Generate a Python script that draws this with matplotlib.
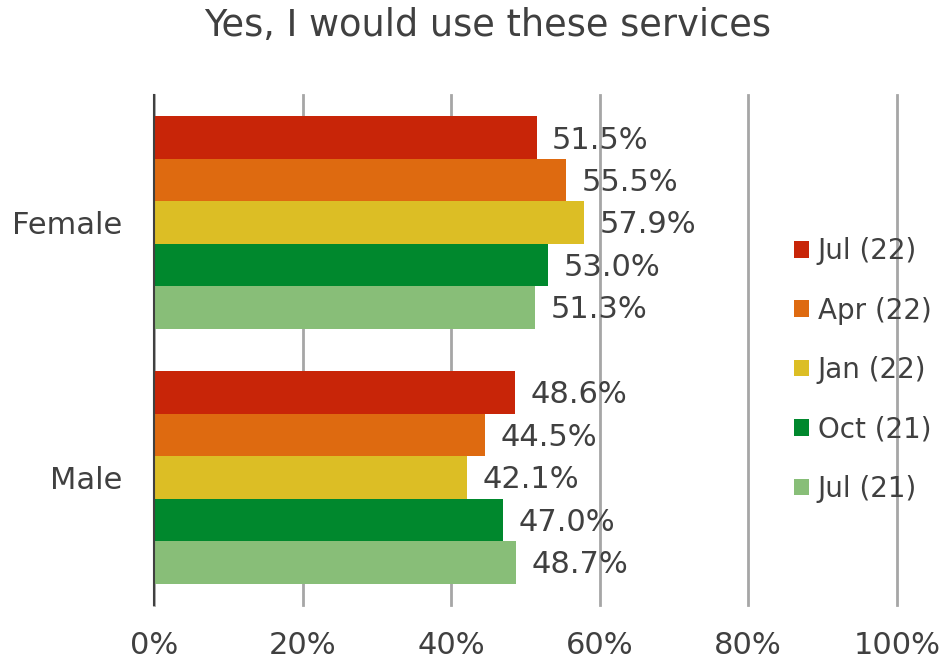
import matplotlib
matplotlib.use('Agg')
import matplotlib.pyplot as plt
from matplotlib.patches import Patch
from matplotlib.ticker import FuncFormatter

# Survey waves, newest first (drawn top to bottom within each group)
waves = ['Jul (22)', 'Apr (22)', 'Jan (22)', 'Oct (21)', 'Jul (21)']
colors = ['#C82508', '#DE6A10', '#DCBE25', '#00882D', '#88BE78']
groups = ['Male', 'Female']
female = [51.5, 55.5, 57.9, 53.0, 51.3]
male = [48.6, 44.5, 42.1, 47.0, 48.7]

TEXT = '#404040'
plt.rcParams['font.family'] = ['DejaVu Sans']

fig = plt.figure(figsize=(9.51, 6.69), dpi=100)
ax = fig.add_axes([0.162, 0.096, 0.781, 0.762])

h = 1 / 6
for i, (wave, col) in enumerate(zip(waves, colors)):
    off = (2 - i) * h
    vals = [male[i], female[i]]
    ys = [g + off for g in range(len(groups))]
    ax.barh(ys, vals, height=h, color=col, zorder=3, label=wave)
    for y, v in zip(ys, vals):
        ax.text(v + 2.1, y - 0.01, f'{v:.1f}%', va='center', ha='left',
                fontsize=22, color=TEXT, zorder=4)

ax.set_xlim(0, 100)
ax.set_ylim(-0.5, 1.5)
ax.set_xticks(range(0, 101, 20))
ax.xaxis.set_major_formatter(FuncFormatter(lambda x, _: f'{x:.0f}%'))
ax.set_yticks(range(len(groups)))
ax.set_yticklabels(groups)
ax.tick_params(axis='x', length=0, pad=19, labelsize=22, labelcolor=TEXT)
ax.tick_params(axis='y', length=0, pad=23, labelsize=22, labelcolor=TEXT)

ax.grid(axis='x', color='#A6A6A6', linewidth=2, zorder=1)
for line in ax.get_xgridlines():
    line.set_clip_on(False)
for s in ['top', 'right', 'bottom']:
    ax.spines[s].set_visible(False)
ax.spines['left'].set_color('#404040')
ax.spines['left'].set_linewidth(1.5)
ax.spines['left'].set_zorder(5)

fig.suptitle('Yes, I would use these services', fontsize=26.5, color=TEXT,
             y=0.99, va='top', x=0.513)

handles = [Patch(facecolor=c, label=w) for w, c in zip(waves, colors)]
fig.legend(handles=handles, loc='center left',
           bbox_to_anchor=(0.835, 0.447), frameon=False, borderaxespad=0,
           borderpad=0, fontsize=20, labelcolor=TEXT, handlelength=0.55,
           handleheight=0.55, handletextpad=0.3, labelspacing=1.13)

fig.savefig('out.png', dpi=100, facecolor='white')
